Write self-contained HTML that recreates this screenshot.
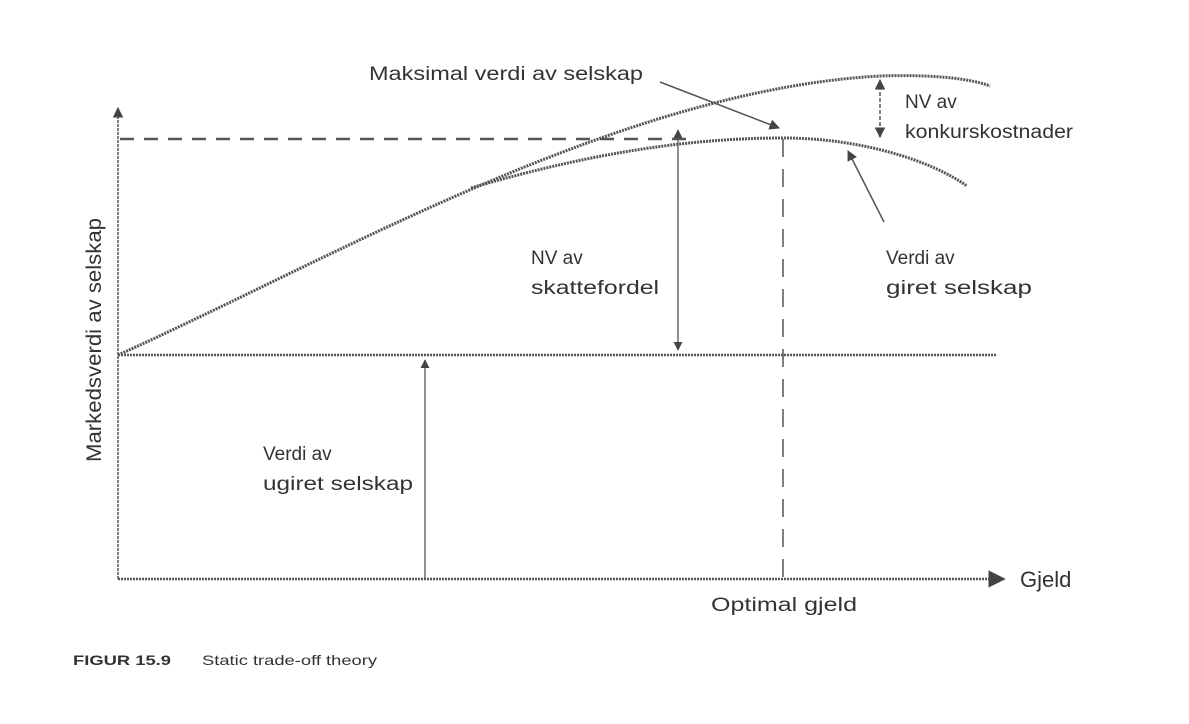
<!DOCTYPE html>
<html><head><meta charset="utf-8"><style>
html,body{margin:0;padding:0;background:#fff;width:1189px;height:724px;overflow:hidden}
svg{display:block}
text{font-family:"Liberation Sans",sans-serif;fill:#333}
</style></head><body>
<svg width="1189" height="724" viewBox="0 0 1189 724">
<defs>
<marker id="a" viewBox="0 0 10 10" refX="9" refY="5" markerWidth="7" markerHeight="7" orient="auto-start-reverse"><path d="M0,0 L10,5 L0,10 z" fill="#444"/></marker>
</defs>
<g stroke="#555" fill="none">
<!-- axes -->
<line x1="118" y1="579" x2="118" y2="108" stroke-width="1.5" stroke-dasharray="3 1" marker-end="url(#a)"/>
<line x1="118" y1="579" x2="1004" y2="579" stroke-width="2.5" stroke-dasharray="2 1" marker-end="url(#a)"/>
<!-- baseline -->
<line x1="118" y1="355" x2="996" y2="355" stroke-width="2.5" stroke-dasharray="2 1"/>
<!-- dashed horizontal -->
<line x1="120" y1="139" x2="690" y2="139" stroke-width="2.5" stroke-dasharray="14 10"/>
<!-- vertical dashed -->
<line x1="783" y1="139" x2="783" y2="579" stroke-width="1.5" stroke-dasharray="18 12"/>
<!-- upper curve -->
<path d="M118,355 C330,260 620,90 880,76 C940,74 975,80 990,86" stroke-width="3" stroke-dasharray="2 1"/>
<!-- lower curve -->
<path d="M471,188 C600,150 700,138 783,138 C860,138 930,160 967,186" stroke-width="3" stroke-dasharray="2 1"/>
<!-- arrows -->
<line x1="425" y1="579" x2="425" y2="360" stroke-width="1.3" marker-end="url(#a)"/>
<line x1="678" y1="130" x2="678" y2="350" stroke-width="1.3" marker-start="url(#a)" marker-end="url(#a)"/>
<line x1="880" y1="80" x2="880" y2="137" stroke-width="1.5" stroke-dasharray="4 2" marker-start="url(#a)" marker-end="url(#a)"/>
<line x1="660" y1="82" x2="779" y2="128" stroke-width="1.5" marker-end="url(#a)"/>
<line x1="884" y1="222" x2="848" y2="151" stroke-width="1.5" marker-end="url(#a)"/>
</g>
<text x="369" y="80" font-size="19" textLength="274" lengthAdjust="spacingAndGlyphs">Maksimal verdi av selskap</text>
<text x="905" y="108" font-size="19">NV av</text>
<text x="905" y="138" font-size="19" textLength="168" lengthAdjust="spacingAndGlyphs">konkurskostnader</text>
<text x="531" y="264" font-size="19">NV av</text>
<text x="531" y="294" font-size="19" textLength="128" lengthAdjust="spacingAndGlyphs">skattefordel</text>
<text x="886" y="264" font-size="19">Verdi av</text>
<text x="886" y="294" font-size="19" textLength="146" lengthAdjust="spacingAndGlyphs">giret selskap</text>
<text x="263" y="460" font-size="19">Verdi av</text>
<text x="263" y="490" font-size="19" textLength="150" lengthAdjust="spacingAndGlyphs">ugiret selskap</text>
<text x="1020" y="587" font-size="22">Gjeld</text>
<text x="784" y="611" font-size="19" text-anchor="middle" textLength="146" lengthAdjust="spacingAndGlyphs">Optimal gjeld</text>
<text transform="translate(101,340) rotate(-90)" font-size="21" text-anchor="middle" textLength="244" lengthAdjust="spacingAndGlyphs">Markedsverdi av selskap</text>
<text x="73" y="665" font-size="14" font-weight="bold" textLength="98" lengthAdjust="spacingAndGlyphs">FIGUR 15.9</text>
<text x="202" y="665" font-size="14" textLength="175" lengthAdjust="spacingAndGlyphs">Static trade-off theory</text>
</svg>
</body></html>
